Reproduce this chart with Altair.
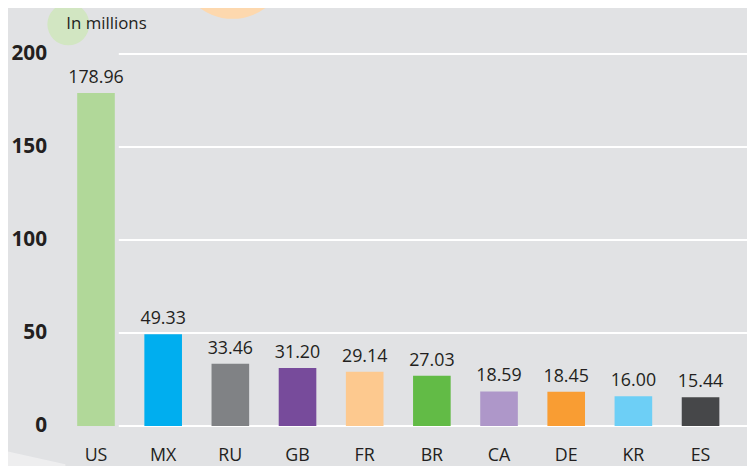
import altair as alt
import pandas as pd

countries = ["US", "MX", "RU", "GB", "FR", "BR", "CA", "DE", "KR", "ES"]
values = [178.96, 49.33, 33.46, 31.20, 29.14, 27.03, 18.59, 18.45, 16.00, 15.44]
labels = ["178.96", "49.33", "33.46", "31.20", "29.14", "27.03", "18.59", "18.45", "16.00", "15.44"]
colors = ["#b1d899", "#00aeef", "#808285", "#774b9b", "#fdc98f",
          "#62bb46", "#ae97c9", "#f99d33", "#6dcff6", "#464749"]
grid_ticks = [0, 50, 100, 150, 200]

df = pd.DataFrame({"country": countries, "value": values, "label": labels, "color": colors})
grid_df = pd.DataFrame({"value": grid_ticks})

FONT = "Open Sans"
TEXT = "#231f20"
BG = "#e1e2e4"

W, H = 679, 376

yscale = alt.Scale(domain=[0, 200], nice=False)
yaxis = alt.Axis(title=None, domain=False, ticks=False, grid=False,
                 values=grid_ticks, labelFont=FONT, labelFontSize=21,
                 labelFontWeight="bold", labelColor=TEXT, labelPadding=16)

xs = alt.X("country:N", sort=countries,
           scale=alt.Scale(paddingInner=0.44, paddingOuter=0.22),
           axis=alt.Axis(title=None, domain=False, ticks=False, labelAngle=0,
                         labelFont=FONT, labelFontSize=18, labelColor=TEXT,
                         labelPadding=21))

# decorative background shapes
corner = alt.Chart(pd.DataFrame({"name": ["corner"]})).mark_point(
    filled=True, opacity=1, color="#eeeeef",
    shape="M-1,-0.225 L1,0.219 L1,1 L-1,1 Z"
).encode(x=alt.value(-32), y=alt.value(407), size=alt.value(4900))

green = alt.Chart(pd.DataFrame({"name": ["green"]})).mark_point(
    filled=True, opacity=1, color="#d2e6c2", shape="circle"
).encode(x=alt.value(6), y=alt.value(-30), size=alt.value(1800))

orange = alt.Chart(pd.DataFrame({"name": ["orange"]})).mark_point(
    filled=True, opacity=1, color="#fdd8ae", shape="circle"
).encode(x=alt.value(172), y=alt.value(-91), size=alt.value(12300))

grid = alt.Chart(grid_df).mark_rule(color="white", strokeWidth=2).encode(
    y=alt.Y("value:Q", scale=yscale, axis=yaxis),
    x=alt.value(57), x2=alt.value(700)
)

bars = alt.Chart(df).mark_bar().encode(
    x=xs, y=alt.Y("value:Q", scale=yscale, axis=yaxis),
    color=alt.Color("color:N", scale=None)
)

text = alt.Chart(df).mark_text(
    baseline="bottom", dy=-6, font=FONT, fontSize=18, color=TEXT
).encode(x=alt.X("country:N", sort=countries), y="value:Q", text="label:N")

title = alt.Chart(pd.DataFrame({"t": ["In millions"]})).mark_text(
    align="left", baseline="alphabetic", font=FONT, fontSize=17, color=TEXT
).encode(x=alt.value(4), y=alt.value(-25), text="t:N")

chart = alt.layer(corner, green, orange, grid, bars, text, title).properties(
    width=W, height=H,
    autosize=alt.AutoSizeParams(type="none"),
    padding={"left": 55, "top": 44, "right": 13, "bottom": 38},
    background=BG,
).configure_view(stroke=None)

chart.save("out.html", embed_options={"renderer": "svg", "actions": False})
